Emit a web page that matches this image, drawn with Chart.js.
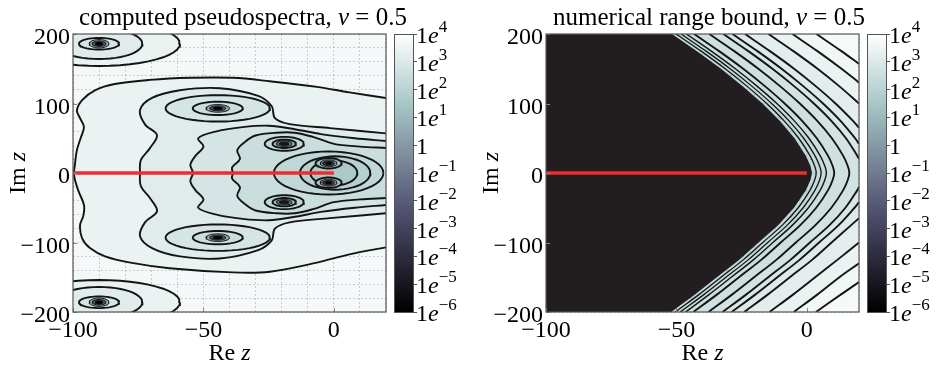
<!DOCTYPE html>
<html>
<head>
<meta charset="utf-8">
<title>pseudospectra</title>
<script src="https://cdn.jsdelivr.net/npm/chart.js@4.4.1/dist/chart.umd.min.js"></script>
<style>
  html, body { margin: 0; padding: 0; background: #fff; }
  #fig { position: relative; width: 946px; height: 369px; overflow: hidden; }
  #fig canvas { position: absolute; top: 0; }
</style>
</head>
<body>
<div id="fig">
  <canvas id="plotL" width="473" height="369" style="left:0px"></canvas>
  <canvas id="barL" width="83" height="369" style="left:390px"></canvas>
  <canvas id="plotR" width="473" height="369" style="left:473px"></canvas>
  <canvas id="barR" width="83" height="369" style="left:863px"></canvas>
</div>
<script>
// ---------------- data ----------------
const xLabeled = [-100, -50, 0];
const yLabeled = [-200, -100, 0, 100, 200];
const cbTicks = [4, 3, 2, 1, 0, -1, -2, -3, -4, -5, -6];   // log10 of colour values
const redLine = [[-100, 0], [0, 0]];

// left panel: computed pseudospectra (log10 levels per contour)
const leftBgLevel = 3.7;
const contourA = [[20,108],[6,116],[-6.5,124],[-24.5,132],[-38.7,137],[-55,137],[-70.5,134],[-84,128],[-91.6,119],[-96.5,105],[-98.5,90],[-97.3,79],[-95.8,66],[-97,51],[-98.5,33],[-99.2,14],[-99.6,-3],[-98,-25],[-95.8,-46],[-96,-61],[-97.3,-75],[-96.5,-94],[-93.5,-108],[-87.7,-120],[-78,-129],[-63,-137],[-38.7,-143],[-24.5,-142],[-6.5,-129],[6,-117],[20,-107]];
const contourB = [[20,57],[-1.5,64.6],[-16.9,70.4],[-22.6,79],[-23.8,96],[-29,111],[-43.7,122],[-59,119],[-69.7,108],[-74.3,90.6],[-72.4,70],[-67.8,54.5],[-70.5,35.8],[-74,18.5],[-74.3,0],[-74,-19],[-70.5,-36],[-67.8,-55],[-72.4,-71],[-74.3,-91],[-69.7,-108],[-59,-120],[-43.7,-123],[-29,-111],[-23.8,-97],[-22.6,-80],[-16.9,-71],[-1.5,-65],[20,-58]];
const contourC = [[20,46],[8,50],[-5,56],[-15,63],[-25,68],[-35,66],[-45,60],[-52,50],[-50,38],[-53,25],[-55,12],[-54,0],[-55,-12],[-53,-25],[-50,-38],[-52,-50],[-45,-60],[-35,-66],[-25,-68],[-15,-63],[-5,-56],[8,-50],[20,-46]];
const contourD = [[20,36],[10,38],[0,42],[-8,52],[-15,58],[-22,58],[-30,54],[-34,45],[-37,33],[-36,20],[-39,8],[-38.7,0],[-39,-8],[-36,-20],[-37,-33],[-34,-45],[-30,-54],[-22,-58],[-15,-58],[-8,-52],[0,-42],[10,-38],[20,-36]];
const leftOpen = [[contourA, 3.4], [contourB, 3.1], [contourC, 2.8], [contourD, 2.5]];

// eigenvalue clusters: centre, then rings [rx, ry, level]
const eigFar = [[-90, 186], [-90, -186]];
const ringsFar = [[31,32,3.4],[16.6,22,3.1],[7.7,8.4,2.8],[3.8,6,0.5],[2.6,4,-2],[1.5,2.4,-6]];
const eigMid = [[-44.5, 93], [-44.5, -93]];
const ringsMid = [[20,19,2.8],[9.6,9.6,2.5],[4.5,5.5,0.5],[3,3.6,-2],[1.8,2.2,-6]];
const eigNear = [[-19, 42], [-19, -42]];
const ringsNear = [[7.5,10,2.2],[4.5,6,1.5],[3,4,-1],[1.8,2.4,-5]];
const eigCore = [[-2, 14], [-2, -14]];
const ringsCore = [[5,7.5,1.3],[3.2,5,0],[2.2,3.4,-3],[1.3,2,-6]];
const clusterRings = [[-2,0,21,31,2.2],[0.5,0,13.5,24,1.9],[0,0,9,18,1.6]];

// right panel: numerical range bound
const rightBgLevel = 2.2;
const wedge = [[-51.7,200],[-42,175],[-32.9,150],[-24.6,125],[-17,100],[-10.3,75],[-4.7,50],[-0.4,25],[1.4,10],[2,0],[1.4,-10],[-0.4,-25],[-4.9,-50],[-11,-75],[-18.5,-100],[-26,-125],[-34.5,-150],[-43,-175],[-52,-200],[-120,-200],[-120,200]];
const n1 = [[-50.1,200],[-40.4,175],[-31.3,150],[-23,125],[-15.4,100],[-8.7,75],[-3.1,50],[1.2,25],[3,10],[3.6,0],[3,-10],[1.2,-25],[-3.3,-50],[-9.4,-75],[-16.9,-100],[-24.4,-125],[-32.9,-150],[-41.4,-175],[-50.4,-200]];
const n2 = [[-48.2,200],[-38.5,175],[-29.4,150],[-21.1,125],[-13.5,100],[-6.8,75],[-1.2,50],[3.1,25],[4.9,10],[5.5,0],[4.9,-10],[3.1,-25],[-1.4,-50],[-7.5,-75],[-15,-100],[-22.5,-125],[-31,-150],[-39.5,-175],[-48.5,-200]];
const n3 = [[-46.2,200],[-36.5,175],[-27.4,150],[-19.1,125],[-11.5,100],[-4.8,75],[0.8,50],[5.1,25],[6.9,10],[7.5,0],[6.9,-10],[5.1,-25],[0.6,-50],[-5.5,-75],[-13,-100],[-20.5,-125],[-29,-150],[-37.5,-175],[-46.5,-200]];
const n4 = [[-43.2,200],[-33.5,175],[-24.4,150],[-16.1,125],[-8.5,100],[-1.8,75],[3.8,50],[8.1,25],[9.9,10],[10.5,0],[9.9,-10],[8.1,-25],[3.6,-50],[-2.5,-75],[-10,-100],[-17.5,-125],[-26,-150],[-34.5,-175],[-43.5,-200]];
const n5 = [[-37.4,200],[-27.7,175],[-18.6,150],[-10.3,125],[-2.7,100],[4,75],[9.6,50],[13.9,25],[15.7,10],[16.3,0],[15.7,-10],[13.9,-25],[9.4,-50],[3.3,-75],[-4.2,-100],[-11.7,-125],[-20.2,-150],[-28.7,-175],[-37.7,-200]];
const n6Up = [[-32,200],[-22.3,175],[-13.2,150],[-4.9,125],[2.7,100],[9.4,75],[15,50],[19.3,25],[20,20]];
const n6Dn = [[20,-20],[19.3,-25],[14.8,-50],[8.7,-75],[1.2,-100],[-6.3,-125],[-14.8,-150],[-23.3,-175],[-32.3,-200]];
const n7Up = [[-28.5,200],[-18.8,175],[-9.7,150],[-1.4,125],[6.2,100],[12.9,75],[18.5,50],[20,42]];
const n7Dn = [[20,-42],[18.3,-50],[12.2,-75],[4.7,-100],[-2.8,-125],[-11.3,-150],[-19.8,-175],[-28.8,-200]];
const n8Up = [[-23.7,200],[-14,175],[-4.9,150],[3.4,125],[11,100],[17.7,75],[20,65]];
const n8Dn = [[20,-65],[17,-75],[9.5,-100],[2,-125],[-6.5,-150],[-15,-175],[-24,-200]];
const n9Up = [[-14.7,200],[-5,175],[4.1,150],[12.4,125],[20,100]];
const n9Dn = [[20,-100],[11.7,-125],[3.2,-150],[-5.3,-175],[-14.3,-200]];
const n10Up = [[-5.5,200],[4.2,175],[13.3,150],[20,130]];
const n10Dn = [[20,-130],[12.5,-150],[4,-175],[-5,-200]];
const n11Up = [[3.7,200],[13.4,175],[20,157]];
const n11Dn = [[20,-157],[13,-175],[3.5,-200]];
const rightOpen = [[n1,2.3,1.3],[n2,2.4,1.3],[n3,2.5,1.4],[n4,2.6,1.9],[n5,2.75,1.9],
  [n6Up,2.9,1.9],[n6Dn,2.9,1.9],[n7Up,3.05,1.9],[n7Dn,3.05,1.9],[n8Up,3.2,1.9],[n8Dn,3.2,1.9],
  [n9Up,3.4,1.9],[n9Dn,3.4,1.9],[n10Up,3.6,1.9],[n10Dn,3.6,1.9],[n11Up,3.75,1.9],[n11Dn,3.75,1.9]];

// ---------------- styling helpers ----------------
const SERIF = '"Liberation Serif", "DejaVu Serif", serif';
const LINE = '#141414';
const FRAME = '#555555';
const GRID = 'rgba(120,120,120,0.38)';
const RED = '#f02c2c';
const CB_MIN = -6, CB_MAX = 4;

const BONE = {
  r: [[0,0],[0.746032,0.652778],[1,1]],
  g: [[0,0],[0.365079,0.319444],[0.746032,0.777778],[1,1]],
  b: [[0,0],[0.365079,0.444444],[1,1]]
};
const BONE_STOPS = [0, 0.365079, 0.746032, 1];
function seg(s, t) {
  for (let i = 1; i < s.length; i++) {
    if (t <= s[i][0]) {
      const [t0, v0] = s[i - 1], [t1, v1] = s[i];
      return v0 + (v1 - v0) * (t - t0) / (t1 - t0);
    }
  }
  return s[s.length - 1][1];
}
function boneT(t) {
  t = Math.max(0, Math.min(1, t));
  const c = k => Math.round(255 * seg(BONE[k], t));
  return `rgb(${c('r')},${c('g')},${c('b')})`;
}
const bone = lv => boneT((lv - CB_MIN) / (CB_MAX - CB_MIN));

function ellipse(cx, cy, rx, ry) {
  const pts = [];
  for (let i = 0; i <= 48; i++) {
    const a = i / 48 * 2 * Math.PI;
    pts.push([cx + rx * Math.cos(a), cy + ry * Math.sin(a)]);
  }
  return pts;
}

// push an open curve's end beyond the frame, then round the right side
function outward([x, y]) {
  if (x >= 19.9) return [60, y];
  if (y >= 199.9) return [x, 260];
  if (y <= -199.9) return [x, -260];
  return [-160, y];
}
function closeRight(pts) {
  const a = outward(pts[pts.length - 1]), b = outward(pts[0]);
  return [...pts, a, [60, a[1]], [60, b[1]], b];
}
const xy = pts => pts.map(([x, y]) => ({ x, y }));

function buildSets(items) {
  const sets = [];
  items.forEach(it => {
    const w = it.w || (it.lv >= 1 ? 1.9 : 1.0);
    if (it.closed) {
      sets.push({ data: xy(it.pts), fill: 'shape', backgroundColor: it.color || bone(it.lv),
        borderColor: LINE, borderWidth: it.noLine ? 0 : w, tension: 0 });
    } else {
      sets.push({ data: xy(closeRight(it.pts)), fill: 'shape', backgroundColor: bone(it.lv),
        borderWidth: 0, tension: 0.35 });
      sets.push({ data: xy(it.pts), fill: false, borderColor: LINE, borderWidth: w, tension: 0.35 });
    }
  });
  sets.push({ data: xy(redLine), fill: false, borderColor: RED, borderWidth: 3.4, tension: 0 });
  const n = sets.length;
  sets.forEach((s, i) => { s.order = n - i; s.pointRadius = 0; s.clip = 0; });
  return sets;
}

// ---------------- text drawing ----------------
function font(p) { return `${p.it ? 'italic ' : ''}${p.size || 24}px ${SERIF}`; }
function rich(ctx, parts, x, y, align) {
  let w = 0;
  parts.forEach(p => { ctx.font = font(p); p.w = ctx.measureText(p.t).width; w += p.w; });
  let cx = align === 'center' ? x - w / 2 : x;
  ctx.fillStyle = '#000';
  ctx.textBaseline = 'alphabetic';
  ctx.textAlign = 'left';
  parts.forEach(p => { ctx.font = font(p); ctx.fillText(p.t, cx, y + (p.dy || 0)); cx += p.w; });
}
const minus = v => (v < 0 ? '\u2212' + (-v) : String(v));

const panelDecor = {
  id: 'panelDecor',
  beforeDraw(chart, args, o) {
    const { ctx, chartArea: a } = chart;
    ctx.save();
    ctx.fillStyle = o.bg;
    ctx.fillRect(a.left, a.top, a.right - a.left, a.bottom - a.top);
    ctx.restore();
  },
  afterDraw(chart, args, o) {
    const { ctx, chartArea: a, scales } = chart;
    ctx.save();
    // short inward tick marks at the labelled values
    ctx.strokeStyle = '#8a8a8a';
    ctx.lineWidth = 1;
    ctx.beginPath();
    yLabeled.forEach(v => { const y = Math.round(scales.y.getPixelForValue(v)) + 0.5; ctx.moveTo(a.left, y); ctx.lineTo(a.left + 4, y); });
    xLabeled.forEach(v => { const x = Math.round(scales.x.getPixelForValue(v)) + 0.5; ctx.moveTo(x, a.bottom); ctx.lineTo(x, a.bottom - 4); });
    ctx.stroke();
    ctx.strokeStyle = FRAME;
    ctx.lineWidth = 1.2;
    ctx.strokeRect(a.left, a.top, a.right - a.left, a.bottom - a.top);
    rich(ctx, o.title, o.titleX, 25, 'center');
    rich(ctx, [{ t: 'Re ' }, { t: 'z', it: true }], (a.left + a.right) / 2, 360, 'center');
    ctx.translate(25, (a.top + a.bottom) / 2);
    ctx.rotate(-Math.PI / 2);
    rich(ctx, [{ t: 'Im ' }, { t: 'z', it: true }], 0, 0, 'center');
    ctx.restore();
  }
};

const cbLabels = {
  id: 'cbLabels',
  afterDraw(chart) {
    const { ctx, chartArea: a, scales } = chart;
    ctx.save();
    ctx.strokeStyle = FRAME;
    ctx.lineWidth = 1;
    ctx.strokeRect(a.left + 0.5, a.top + 0.5, a.right - a.left - 1, a.bottom - a.top);
    cbTicks.forEach(v => {
      const y = scales.y.getPixelForValue(v);
      const parts = v === 0 ? [{ t: '1' }]
        : [{ t: '1' }, { t: 'e', it: true }, { t: minus(v), size: 17, dy: -11 }];
      rich(ctx, parts, a.right + 2, y + 9, 'left');
    });
    ctx.restore();
  }
};

function tickFont() { return { family: SERIF, size: 24 }; }

function mainChart(id, sets, bgLevel, title, titleX) {
  return new Chart(document.getElementById(id), {
    type: 'line',
    data: { datasets: sets },
    plugins: [panelDecor],
    options: {
      responsive: false, animation: false, events: [],
      layout: { padding: { left: 0, right: 87, top: 34, bottom: 0 } },
      plugins: {
        legend: { display: false }, tooltip: { enabled: false }, title: { display: false },
        panelDecor: { bg: bone(bgLevel), title, titleX }
      },
      elements: { point: { radius: 0 }, line: { capBezierPoints: false } },
      scales: {
        x: {
          type: 'linear', min: -100, max: 20, z: 1,
          afterFit: s => { s.height = 57; },
          grid: { color: GRID, lineWidth: 0.9, drawTicks: false },
          border: { display: false, dash: [2, 2] },
          ticks: { stepSize: 10, autoSkip: false, maxRotation: 0, padding: 4, color: '#000', font: tickFont(),
            callback: v => (xLabeled.includes(v) ? minus(v) : '') }
        },
        y: {
          type: 'linear', min: -200, max: 200, z: 1,
          afterFit: s => { s.width = 73; },
          grid: { color: GRID, lineWidth: 0.9, drawTicks: false },
          border: { display: false, dash: [2, 2] },
          ticks: { stepSize: 20, autoSkip: false, padding: 3, labelOffset: 4, color: '#000', font: tickFont(),
            callback: v => (yLabeled.includes(v) ? minus(v) : '') }
        }
      }
    }
  });
}

function colorBar(id) {
  return new Chart(document.getElementById(id), {
    type: 'bar',
    data: {
      labels: ['cb'],
      datasets: [{
        data: [[CB_MIN, CB_MAX]],
        borderWidth: 0, barPercentage: 1, categoryPercentage: 1,
        backgroundColor: c => {
          const a = c.chart.chartArea;
          if (!a) return boneT(1);
          const g = c.chart.ctx.createLinearGradient(0, a.bottom, 0, a.top);
          BONE_STOPS.forEach(t => g.addColorStop(t, boneT(t)));
          return g;
        }
      }]
    },
    plugins: [cbLabels],
    options: {
      responsive: false, animation: false, events: [],
      layout: { padding: { left: 4, right: 0, top: 34, bottom: 57 } },
      plugins: { legend: { display: false }, tooltip: { enabled: false } },
      scales: {
        x: { display: false },
        y: {
          position: 'right', min: CB_MIN, max: CB_MAX,
          afterFit: s => { s.width = 59; },
          grid: { drawOnChartArea: false, drawTicks: true, tickLength: 3, color: FRAME },
          border: { display: false },
          ticks: { stepSize: 1, display: false }
        }
      }
    }
  });
}

// ---------------- assemble left panel ----------------
const leftItems = [];
leftOpen.forEach(([pts, lv]) => leftItems.push({ pts, lv, closed: false }));
[[eigFar, ringsFar], [eigMid, ringsMid], [eigNear, ringsNear], [eigCore, ringsCore]].forEach(([cs, rs]) => {
  cs.forEach(([cx, cy]) => rs.forEach(([rx, ry, lv]) => leftItems.push({ pts: ellipse(cx, cy, rx, ry), lv, closed: true })));
});
clusterRings.forEach(([cx, cy, rx, ry, lv]) => leftItems.push({ pts: ellipse(cx, cy, rx, ry), lv, closed: true }));
leftItems.sort((p, q) => q.lv - p.lv);

mainChart('plotL', buildSets(leftItems), leftBgLevel,
  [{ t: 'computed pseudospectra, ' }, { t: '\u03bd', it: true }, { t: ' = 0.5' }].map(p => ({ ...p, size: 25 })), 243);
colorBar('barL');

// ---------------- assemble right panel ----------------
const rightItems = [{ pts: wedge, lv: -6, closed: true, color: '#221e1f', noLine: true }];
rightOpen.forEach(([pts, lv, w]) => rightItems.push({ pts, lv, w, closed: false }));

mainChart('plotR', buildSets(rightItems), rightBgLevel,
  [{ t: 'numerical range bound, ' }, { t: '\u03bd', it: true }, { t: ' = 0.5' }].map(p => ({ ...p, size: 25 })), 236);
colorBar('barR');
</script>
</body>
</html>
